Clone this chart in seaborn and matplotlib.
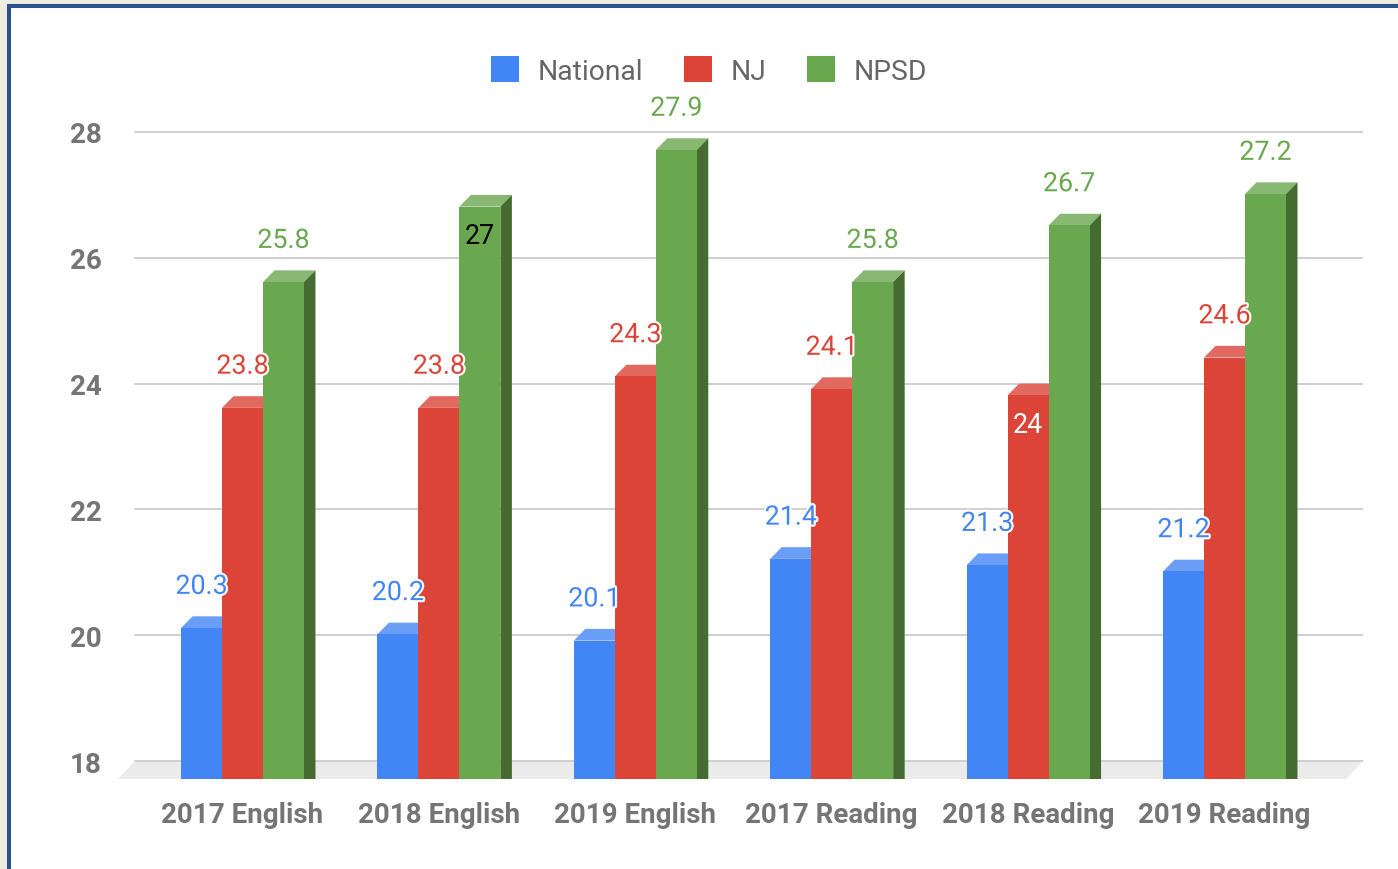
import numpy as np
import pandas as pd
import matplotlib
matplotlib.use("Agg")
import matplotlib.pyplot as plt
import matplotlib.patches as mpatches
import matplotlib.patheffects as pe
import matplotlib.transforms as mtransforms
import seaborn as sns

categories = ["2017 English", "2018 English", "2019 English",
              "2017 Reading", "2018 Reading", "2019 Reading"]
series = ["National", "NJ", "NPSD"]
national = [20.3, 20.2, 20.1, 21.4, 21.3, 21.2]
nj = [23.8, 23.8, 24.3, 24.1, 24.0, 24.6]
npsd = [25.8, 27.0, 27.9, 25.8, 26.7, 27.2]
yticks = [18, 20, 22, 24, 26, 28]

colors = ["#4285F4", "#DB4437", "#6AA84F"]
top_colors = ["#6A9EF6", "#E2695F", "#88B872"]
side_colors = ["#2F62B8", "#9B2E25", "#456B31"]

df = pd.DataFrame({
    "category": categories * 3,
    "series": [s for s in series for _ in categories],
    "value": national + nj + npsd,
})

sns.set_theme(style="white")
plt.rcParams["font.family"] = ["Roboto", "DejaVu Sans"]

W, H = 1398, 870
fig = plt.figure(figsize=(W / 100, H / 100), dpi=100)
fig.patch.set_facecolor("#EEEBE0")

# outer frame
frame = mpatches.Rectangle((9.3 / W, -0.05), 1.2, (H - 7.3) / H + 0.05,
                           transform=fig.transFigure, facecolor="white",
                           edgecolor="#2B5189", linewidth=2.9, zorder=0)
fig.add_artist(frame)

ax_l, ax_r, ax_b, ax_t = 118, 1363, 780, 40
ax = fig.add_axes([ax_l / W, (H - ax_b) / H, (ax_r - ax_l) / W, (ax_b - ax_t) / H])
ax.set_facecolor("none")

px_x = 196.4   # pixels per category
px_y = 62.9    # pixels per unit
back_center0 = 254
sns.barplot(data=df, x="category", y="value", hue="series", palette=colors,
            width=0.626, gap=0, saturation=1, legend=False, ax=ax,
            linewidth=0, errorbar=None)

ax.set_xlim((ax_l - back_center0) / px_x, (ax_r - back_center0) / px_x)
ax.set_ylim(18 - (ax_b - 762) / px_y, 18 + (762 - ax_t) / px_y)

ddx = 11.5 / px_x
ddy = 11.7 / px_y
offset = mtransforms.ScaledTranslation(-11.5 / 100, -11.7 / 100, fig.dpi_scale_trans)

for spine in ax.spines.values():
    spine.set_visible(False)

# gridlines (back plane)
gx0 = (135 - ax_l) / (ax_r - ax_l)
for v in yticks:
    ax.axhline(v, xmin=gx0, xmax=1, color="#CCCCCC", lw=1.3, zorder=1.2)

# floor
fl = [((135 - ax_l) / (ax_r - ax_l), (ax_b - 762) / (ax_b - ax_t)),
      (1.0, (ax_b - 762) / (ax_b - ax_t)),
      ((1346 - ax_l) / (ax_r - ax_l), 0.0),
      (0.0, 0.0)]
ax.add_patch(mpatches.Polygon(fl, closed=True, transform=ax.transAxes,
                              facecolor="#EBEBEB", edgecolor="none", zorder=1.0))

# 3D faces
for i, cont in enumerate(ax.containers):
    z = 3 + i
    for bar in cont:
        x0 = bar.get_x()
        w = bar.get_width()
        h = bar.get_height()
        x1 = x0 + w
        bar.set_transform(ax.transData + offset)
        bar.set_zorder(z + 0.1)
        top = mpatches.Polygon([(x0 - ddx, h - ddy), (x1 - ddx, h - ddy), (x1, h), (x0, h)],
                               closed=True, facecolor=top_colors[i], edgecolor="none", zorder=z)
        side = mpatches.Polygon([(x1 - ddx, h - ddy), (x1, h), (x1, 0), (x1 - ddx, -ddy)],
                                closed=True, facecolor=side_colors[i], edgecolor="none", zorder=z)
        ax.add_patch(top)
        ax.add_patch(side)

# data labels
inside = {(2, 1): "black", (1, 4): "white"}
for i, cont in enumerate(ax.containers):
    vals = [national, nj, npsd][i]
    for j, bar in enumerate(cont):
        v = vals[j]
        xc = bar.get_x() + bar.get_width() / 2 - ddx
        txt = f"{v:g}"
        if (i, j) in inside:
            ax.annotate(txt, xy=(xc, v), xytext=(0, -41 * 0.72), textcoords="offset points",
                        ha="center", va="center", fontsize=19.3, color=inside[(i, j)], zorder=20)
        else:
            ax.annotate(txt, xy=(xc, v), xytext=(0, 30 * 0.72), textcoords="offset points",
                        ha="center", va="center", fontsize=19.3, color=colors[i], zorder=20,
                        path_effects=[pe.withStroke(linewidth=3, foreground="white")])

ax.set_yticks(yticks)
ax.set_yticklabels([str(t) for t in yticks], fontsize=20, fontweight="bold", color="#757575")
ax.set_xticks(np.arange(len(categories)) - ddx)
ax.set_xticklabels(categories, fontsize=20, fontweight="bold", color="#757575")
ax.tick_params(axis="y", length=0, pad=11.5)
ax.tick_params(axis="x", length=0, pad=15.5)
ax.set_xlabel("")
ax.set_ylabel("")
ax.grid(False)

handles = [mpatches.Patch(facecolor=c, edgecolor="none") for c in colors]
fig.legend(handles, series, loc="center", bbox_to_anchor=(709 / W, 1 - 71.5 / H),
           ncol=3, frameon=False, fontsize=20.3, labelcolor="#666666",
           handlelength=1.0, handleheight=1.0, handletextpad=0.65, columnspacing=1.45)

fig.savefig("out.png", dpi=100, facecolor=fig.get_facecolor())
